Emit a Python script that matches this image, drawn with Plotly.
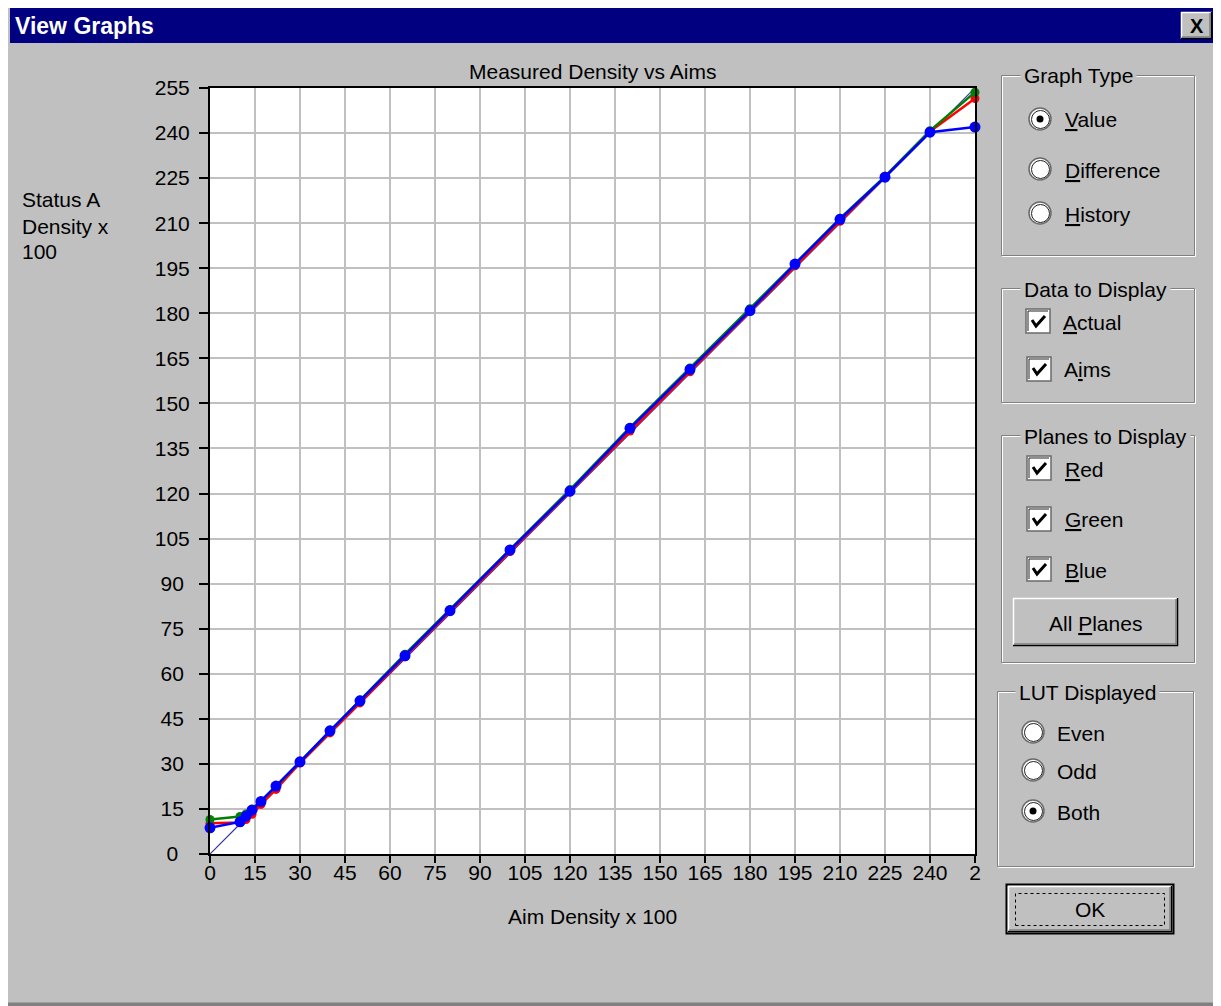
import plotly.graph_objects as go

# ---------------- data ----------------
aim_density = [0, 10, 12, 14, 17, 22, 30, 40, 50, 65, 80, 100, 120, 140, 160, 180, 195, 210, 225, 240, 255]
aims = [0, 10, 12, 14, 17, 22, 30, 40, 50, 65, 80, 100, 120, 140, 160, 180, 195, 210, 225, 240, 255]
red_measured = [10.2, 10.5, 11.5, 13.2, 16.5, 21.5, 30.3, 40.3, 50.3, 65.7, 80.7, 100.7, 120.5, 140.8,
                160.5, 180.7, 195.8, 210.6, 225.6, 240.5, 251.5]
green_measured = [11.5, 12.5, 13.3, 15.0, 17.6, 22.5, 30.7, 41.2, 51.3, 66.5, 81.4, 101.4, 121.3, 142.0,
                  161.8, 181.5, 196.5, 211.6, 225.6, 240.8, 253.6]
blue_measured = [8.7, 10.7, 12.6, 14.6, 17.5, 22.6, 30.7, 41.0, 51.0, 66.0, 81.0, 101.2, 120.8, 141.7,
                 161.3, 180.9, 196.4, 211.3, 225.3, 240.3, 242.0]

x_tick_vals = [0, 15, 30, 45, 60, 75, 90, 105, 120, 135, 150, 165, 180, 195, 210, 225, 240, 255]
x_tick_text = ["0", "15", "30", "45", "60", "75", "90", "105", "120", "135", "150", "165", "180",
               "195", "210", "225", "240", "2"]
y_tick_vals = [0, 15, 30, 45, 60, 75, 90, 105, 120, 135, 150, 165, 180, 195, 210, 225, 240, 255]
y_tick_text = ["0\u00a0\u00a0", "15\u00a0", "30\u00a0", "45\u00a0", "60\u00a0", "75\u00a0", "90\u00a0",
               "105", "120", "135", "150", "165", "180", "195", "210", "225", "240", "255"]

# ---------------- geometry helpers ----------------
# The page body has an 8px margin; all coordinates below are screen pixels.
OFF = 8
FIG_W, FIG_H = 1221 - OFF, 1006 - OFF
L, T, PW, PH = 210, 88, 765, 766          # plot area in screen pixels
FONT = "Liberation Sans, Arial, sans-serif"
GREY = "#C0C0C0"
DARK = "#808080"


def px(x):
    return (x - L) / PW


def py(y):
    return (T + PH - y) / PH


shapes = []
annotations = []


def rect(x0, y0, x1, y1, fill=None, line=None, lw=1, dash=None):
    ln = dict(color=line if line else "rgba(0,0,0,0)", width=lw if line else 0)
    if dash:
        ln["dash"] = dash
    shapes.append(dict(type="rect", xref="paper", yref="paper",
                       x0=px(x0), x1=px(x1), y0=py(y1), y1=py(y0),
                       fillcolor=fill if fill else "rgba(0,0,0,0)", line=ln, layer="above"))


def seg(x0, y0, x1, y1, color, lw=1):
    shapes.append(dict(type="line", xref="paper", yref="paper",
                       x0=px(x0), x1=px(x1), y0=py(y0), y1=py(y1),
                       line=dict(color=color, width=lw), layer="above"))


def circ(cx, cy, d, fill, line=None, lw=1):
    shapes.append(dict(type="circle", xref="paper", yref="paper",
                       x0=px(cx - d / 2), x1=px(cx + d / 2), y0=py(cy + d / 2), y1=py(cy - d / 2),
                       fillcolor=fill, line=dict(color=line if line else "rgba(0,0,0,0)",
                                                 width=lw if line else 0), layer="above"))


def text(x, y, s, size=21, xanchor="left", color="black", bold=False, bg=None, pad=1):
    if bold:
        s = "<b>" + s + "</b>"
    a = dict(xref="paper", yref="paper", x=px(x), y=py(y), text=s, showarrow=False,
             xanchor=xanchor, yanchor="middle", font=dict(family=FONT, size=size, color=color),
             borderpad=pad)
    if bg:
        a["bgcolor"] = bg
    annotations.append(a)


def raised(x0, y0, x1, y1):
    rect(x0, y0, x1, y1, fill=GREY)
    seg(x0, y0 + 0.5, x1, y0 + 0.5, "white", 1.5)
    seg(x0 + 0.5, y0, x0 + 0.5, y1, "white", 1.5)
    seg(x0, y1 - 0.5, x1, y1 - 0.5, "black", 1.5)
    seg(x1 - 0.5, y0, x1 - 0.5, y1, "black", 1.5)
    seg(x0 + 1, y1 - 2, x1 - 1, y1 - 2, DARK, 1.5)
    seg(x1 - 2, y0 + 1, x1 - 2, y1 - 1, DARK, 1.5)


def groupbox(x0, y0, x1, y1, label, lx):
    rect(x0 + 1.5, y0 + 1.5, x1 + 1.5, y1 + 1.5, line="white", lw=1)
    rect(x0 + 0.5, y0 + 0.5, x1 + 0.5, y1 + 0.5, line=DARK, lw=1)
    text(lx, y0 + 1, label, bg=GREY, pad=3)


def radio(cx, cy, label, lx, selected=False):
    circ(cx, cy, 22, "white", "#6a6a6a", 1.5)
    circ(cx + 0.5, cy + 0.5, 18, "rgba(0,0,0,0)", "#202020", 1)
    if selected:
        circ(cx, cy, 7, "black")
    text(lx, cy + 1, label)


def checkbox(bx, by, label, lx):
    rect(bx, by, bx + 24, by + 24, fill="white", line="#6a6a6a", lw=1.5)
    seg(bx + 2, by + 2, bx + 22, by + 2, "#202020", 1)
    seg(bx + 2, by + 2, bx + 2, by + 22, "#202020", 1)
    shapes.append(dict(type="path", xref="paper", yref="paper",
                       path="M {} {} L {} {} L {} {}".format(px(bx + 6), py(by + 11), px(bx + 10), py(by + 17),
                                                             px(bx + 19), py(by + 7)),
                       line=dict(color="black", width=3), layer="above"))
    text(lx, by + 13, label)


# ---------------- window chrome ----------------
rect(1217, 0, 1230, 1020, fill=DARK)
rect(0, 1003, 1230, 1020, fill=DARK)
rect(0, 1002, 1230, 1003, fill="#A0A0A0")
rect(10, 8, 1217, 43, fill="#000080")
text(13, 26, "View Graphs", size=23, color="white", bold=True)
raised(1181, 12, 1212, 39)
text(1196.5, 26, "X", size=20, xanchor="center", bold=True)

# ---------------- chart texts ----------------
text(592, 71, "Measured Density vs Aims", xanchor="center")
text(592, 916, "Aim Density x 100", xanchor="center")
text(20, 200, "Status A")
text(20, 226, "Density x")
text(20, 251, "100")

# ---------------- right panel ----------------
groupbox(1001, 75, 1194, 255, "Graph Type", 1020)
radio(1040, 119, "<u>V</u>alue", 1063, selected=True)
radio(1040, 169, "<u>D</u>ifference", 1063)
radio(1040, 213, "<u>H</u>istory", 1063)

groupbox(1001, 288, 1194, 402, "Data to Display", 1020)
checkbox(1026, 309, "<u>A</u>ctual", 1061)
checkbox(1027, 357, "A<u>i</u>ms", 1062)

groupbox(1001, 435, 1194, 662, "Planes to Display", 1020)
checkbox(1027, 456, "<u>R</u>ed", 1063)
checkbox(1027, 507, "<u>G</u>reen", 1063)
checkbox(1027, 557, "<u>B</u>lue", 1063)
raised(1013, 598, 1178, 646)
text(1095, 623, "All <u>P</u>lanes", xanchor="center")

groupbox(997, 691, 1193, 866, "LUT Displayed", 1015)
radio(1033, 732, "Even", 1055)
radio(1033, 770, "Odd", 1055)
radio(1033, 811, "Both", 1055, selected=True)

rect(1006.5, 884.5, 1173.5, 933.5, line="black", lw=2)
raised(1008, 886, 1172, 932)
rect(1015.5, 893.5, 1164.5, 925.5, line="black", lw=1, dash="dot")
text(1090, 910, "OK", xanchor="center")

# ---------------- traces ----------------
fig = go.Figure()
fig.add_trace(go.Scatter(x=aim_density, y=aims, mode="lines", name="Aims",
                         line=dict(color="#2F2FA8", width=1.2), cliponaxis=False, hoverinfo="skip"))
fig.add_trace(go.Scatter(x=aim_density, y=red_measured, mode="lines+markers", name="Red",
                         line=dict(color="#FF0000", width=2.5), marker=dict(color="#FF0000", size=9),
                         cliponaxis=False))
fig.add_trace(go.Scatter(x=aim_density, y=green_measured, mode="lines+markers", name="Green",
                         line=dict(color="#008000", width=2.5), marker=dict(color="#008000", size=9),
                         cliponaxis=False))
fig.add_trace(go.Scatter(x=aim_density, y=blue_measured, mode="lines+markers", name="Blue",
                         line=dict(color="#0000FF", width=2.5), marker=dict(color="#0000FF", size=11),
                         cliponaxis=False))

axis_common = dict(range=[0, 255], showgrid=True, gridcolor=GREY, gridwidth=2, zeroline=False,
                   showline=True, mirror=True, linecolor="black", linewidth=2,
                   ticks="outside", tickcolor="black", tickwidth=2,
                   tickfont=dict(family=FONT, size=21, color="black"), fixedrange=True)

fig.update_layout(
    width=FIG_W, height=FIG_H, autosize=False,
    margin=dict(l=L - OFF, r=FIG_W - (L - OFF) - PW, t=T - OFF, b=FIG_H - (T - OFF) - PH, pad=0),
    paper_bgcolor=GREY, plot_bgcolor="white",
    showlegend=False,
    xaxis=dict(**axis_common, tickmode="array", tickvals=x_tick_vals, ticktext=x_tick_text,
               ticklen=7, ticklabelstandoff=-8, automargin=False),
    yaxis=dict(**axis_common, tickmode="array", tickvals=y_tick_vals, ticktext=y_tick_text,
               ticklen=9, ticklabelstandoff=5, automargin=False),
    shapes=shapes,
    annotations=annotations,
)

fig.write_html("out.html", config={"displayModeBar": False})
